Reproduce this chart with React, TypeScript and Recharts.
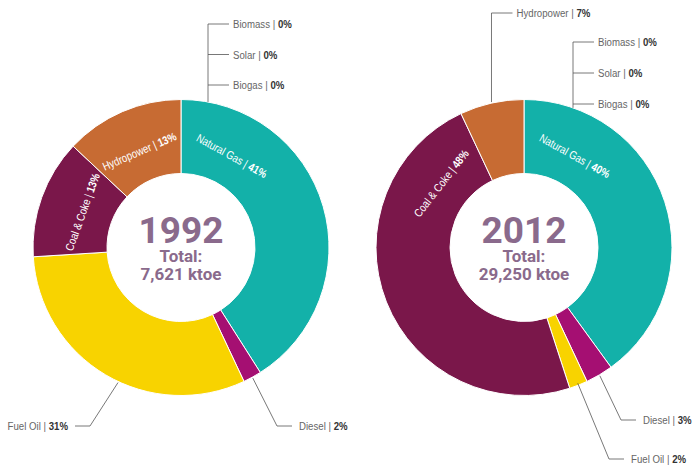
import React from 'react';
import { PieChart, Pie, Cell } from 'recharts';

const categories = ['Natural Gas', 'Diesel', 'Fuel Oil', 'Coal & Coke', 'Hydropower', 'Biomass', 'Solar', 'Biogas'];
const share1992 = [41, 2, 31, 13, 13, 0, 0, 0];
const share2012 = [40, 3, 2, 48, 7, 0, 0, 0];
const years = ['1992', '2012'];
const totals = ['7,621', '29,250'];

const COLORS: Record<string, string> = {
  'Natural Gas': '#13B1A9',
  Diesel: '#A50F72',
  'Fuel Oil': '#F8D300',
  'Coal & Coke': '#7A174A',
  Hydropower: '#C76B33',
  Biomass: '#8dc63f',
  Solar: '#f0a030',
  Biogas: '#6a9a3a',
};

const NARROW = "'Liberation Sans', Arial, sans-serif";
const SQUEEZE = 0.84; // the source uses a condensed face
const CENTER_FONT = "Roboto, 'Liberation Sans', sans-serif";
const MAUVE = '#8A6A8C';
const LINE = '#555';

// label placement for each slice (annotation only)
const place1992: Record<string, any> = {
  'Natural Gas': { kind: 'inside', at: 'start', shift: -29 },
  Hydropower: { kind: 'inside', at: 'mid', shift: 0 },
  'Coal & Coke': { kind: 'inside', at: 'mid', shift: 0 },
  Diesel: { kind: 'leader', elbow: [96, 178.5], side: 'right' },
  'Fuel Oil': { kind: 'leader', elbow: [-91, 178.5], side: 'left', angle: -115 },
  Biomass: { kind: 'stack', x: 27, top: -223.5, step: 30.5, slot: 0 },
  Solar: { kind: 'stack', x: 27, top: -223.5, step: 30.5, slot: 1 },
  Biogas: { kind: 'stack', x: 27, top: -223.5, step: 30.5, slot: 2 },
};

const place2012: Record<string, any> = {
  'Natural Gas': { kind: 'inside', at: 'start', shift: -29 },
  'Coal & Coke': { kind: 'inside', at: 'end', shift: 27 },
  Hydropower: { kind: 'up', top: -234.5 },
  Diesel: { kind: 'leader', elbow: [97, 172.5], side: 'right' },
  'Fuel Oil': { kind: 'leader', elbow: [85, 211.5], side: 'right', r: -3 },
  Biomass: { kind: 'stack', x: 49, top: -205.5, step: 31, slot: 0 },
  Solar: { kind: 'stack', x: 49, top: -205.5, step: 31, slot: 1 },
  Biogas: { kind: 'stack', x: 49, top: -205.5, step: 31, slot: 2 },
};

const toData = (vals: number[]) => categories.map((name, i) => ({ name, value: vals[i] }));
const data1992 = toData(share1992);
const data2012 = toData(share2012);

const pt = (cx: number, cy: number, r: number, deg: number) => {
  const a = (deg * Math.PI) / 180;
  return [cx + r * Math.cos(a), cy - r * Math.sin(a)];
};

function OuterText({ x, y, name, value, anchor }: any) {
  return (
    <text
      transform={`translate(${x},${y}) scale(${SQUEEZE},1)`}
      x={0}
      y={0}
      textAnchor={anchor}
      dominantBaseline="central"
      fontFamily={NARROW}
      fontSize={11.5}
    >
      <tspan fill="#666">{`${name} | `}</tspan>
      <tspan fill="#333" fontWeight="bold">{`${value}%`}</tspan>
    </text>
  );
}

function makeLabel(place: Record<string, any>, year: string, total: string) {
  return (props: any) => {
    const { cx, cy, midAngle, outerRadius, startAngle, endAngle, name, value, index } = props;
    const cfg = place[name];
    const parts: React.ReactNode[] = [];
    if (index === 0) {
      parts.push(
        <g key="c">
          <text x={cx} y={cy - 4.5} textAnchor="middle" fill={MAUVE} fontFamily={CENTER_FONT} fontWeight="bold" fontSize={37}>
            {year}
          </text>
          <text x={cx} y={cy + 14.5} textAnchor="middle" fill={MAUVE} fontFamily={CENTER_FONT} fontWeight="bold" fontSize={17}>
            Total:
          </text>
          <text x={cx} y={cy + 32.5} textAnchor="middle" fill={MAUVE} fontFamily={CENTER_FONT} fontWeight="bold" fontSize={17}>
            {`${total} ktoe`}
          </text>
        </g>
      );
    }
    if (!cfg) return <g>{parts}</g>;

    if (cfg.kind === 'inside') {
      const base = cfg.at === 'start' ? startAngle : cfg.at === 'end' ? endAngle : midAngle;
      let ang = base + cfg.shift;
      ang = ((ang % 360) + 360) % 360;
      const [x, y] = pt(cx, cy, 105, ang);
      parts.push(
        <text
          key="i"
          x={0}
          y={0}
          transform={`translate(${x},${y}) rotate(${90 - ang}) scale(${SQUEEZE},1)`}
          textAnchor="middle"
          dominantBaseline="central"
          fill="#fff"
          fontFamily={NARROW}
          fontSize={11.5}
        >
          <tspan>{`${name} | `}</tspan>
          <tspan fontWeight="bold">{`${value}%`}</tspan>
        </text>
      );
    } else if (cfg.kind === 'leader') {
      const [x0, y0] = pt(cx, cy, outerRadius + 1 + (cfg.r || 0), cfg.angle ?? midAngle);
      const ex = cx + cfg.elbow[0];
      const ey = cy + cfg.elbow[1];
      const dir = cfg.side === 'right' ? 1 : -1;
      const hx = ex + dir * 15;
      parts.push(
        <g key="l">
          <polyline points={`${x0},${y0} ${ex},${ey} ${hx},${ey}`} fill="none" stroke={LINE} strokeWidth={0.8} />
          <OuterText x={hx + dir * 7} y={ey} name={name} value={value} anchor={dir > 0 ? 'start' : 'end'} />
        </g>
      );
    } else if (cfg.kind === 'up') {
      const [x0, y0] = pt(cx, cy, outerRadius + 1, midAngle);
      const ty = cy + cfg.top;
      parts.push(
        <g key="u">
          <polyline points={`${x0},${y0} ${x0},${ty} ${x0 + 21},${ty}`} fill="none" stroke={LINE} strokeWidth={0.8} />
          <OuterText x={x0 + 25} y={ty} name={name} value={value} anchor="start" />
        </g>
      );
    } else if (cfg.kind === 'stack') {
      const lx = cx + cfg.x;
      const ty = cy + cfg.top + cfg.slot * cfg.step;
      const ringY = cy - Math.sqrt(outerRadius * outerRadius - cfg.x * cfg.x);
      parts.push(
        <g key="s">
          {cfg.slot === 0 && <line x1={lx} y1={ty} x2={lx} y2={ringY} stroke={LINE} strokeWidth={0.8} />}
          <line x1={lx} y1={ty} x2={lx + 21} y2={ty} stroke={LINE} strokeWidth={0.8} />
          <OuterText x={lx + 25} y={ty} name={name} value={value} anchor="start" />
        </g>
      );
    }
    return <g>{parts}</g>;
  };
}

export default function App() {
  return (
    <div style={{ position: 'absolute', left: 0, top: 0, background: '#fff' }}>
      <PieChart width={696} height={465} margin={{ top: 0, right: 0, bottom: 0, left: 0 }}>
        <Pie
          data={data1992}
          dataKey="value"
          nameKey="name"
          cx={181}
          cy={247.5}
          innerRadius={74}
          outerRadius={148}
          startAngle={90}
          endAngle={-270}
          stroke="#fff"
          strokeWidth={1}
          labelLine={false}
          label={makeLabel(place1992, years[0], totals[0])}
          isAnimationActive={false}
        >
          {data1992.map((d) => (
            <Cell key={d.name} fill={COLORS[d.name]} />
          ))}
        </Pie>
        <Pie
          data={data2012}
          dataKey="value"
          nameKey="name"
          cx={524}
          cy={247.5}
          innerRadius={74}
          outerRadius={148}
          startAngle={90}
          endAngle={-270}
          stroke="#fff"
          strokeWidth={1}
          labelLine={false}
          label={makeLabel(place2012, years[1], totals[1])}
          isAnimationActive={false}
        >
          {data2012.map((d) => (
            <Cell key={d.name} fill={COLORS[d.name]} />
          ))}
        </Pie>
      </PieChart>
    </div>
  );
}
